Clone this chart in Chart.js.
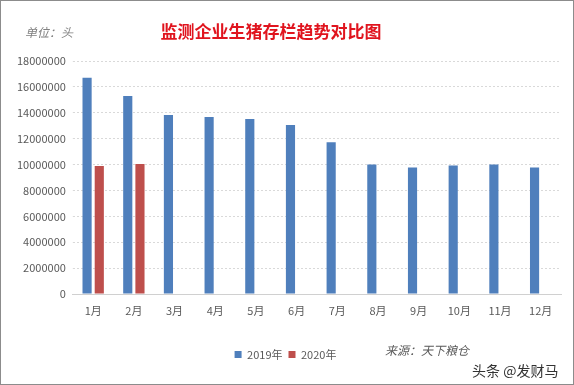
<!DOCTYPE html>
<html>
<head>
<meta charset="utf-8">
<script src="https://cdn.jsdelivr.net/npm/chart.js@4/dist/chart.umd.min.js"></script>
<style>
  html, body { margin: 0; padding: 0; background: #fff; }
  #wrap { position: relative; width: 574px; height: 385px; box-sizing: border-box; border: 1px solid #8c8c8c; }
  canvas { display: block; }
</style>
</head>
<body>
<div id="wrap"><canvas id="chart"></canvas></div>
<script>
const months = ["1月", "2月", "3月", "4月", "5月", "6月", "7月", "8月", "9月", "10月", "11月", "12月"];
const stock2019 = [16700000, 15300000, 13830000, 13670000, 13520000, 13060000, 11730000, 10000000, 9770000, 9920000, 10000000, 9770000];
const stock2020 = [9890000, 10040000];
const yTicks = [0, 2000000, 4000000, 6000000, 8000000, 10000000, 12000000, 14000000, 16000000, 18000000];

const FONT = "'Noto Sans CJK SC', 'Noto Sans', sans-serif";

// title, unit note, source and watermark drawn as text on the canvas
const extraText = {
  id: "extraText",
  afterDraw(chart) {
    const ctx = chart.ctx;
    ctx.save();
    ctx.textBaseline = "middle";

    ctx.fillStyle = "#e0141e";
    ctx.font = "bold 17px " + FONT;
    ctx.textAlign = "center";
    ctx.fillText("监测企业生猪存栏趋势对比图", 270, 31);

    ctx.fillStyle = "#7f7f7f";
    ctx.font = "italic 12px " + FONT;
    ctx.textAlign = "left";
    ctx.fillText("单位：头", 24, 31);

    ctx.fillStyle = "#595959";
    ctx.font = "italic 12px " + FONT;
    ctx.fillText("来源：天下粮仓", 384, 349);

    ctx.fillStyle = "#333";
    ctx.font = "14px " + FONT;
    ctx.fillText("头条 @发财马", 471, 370);
    ctx.restore();
  }
};

new Chart(document.getElementById("chart"), {
  type: "bar",
  data: {
    labels: months,
    datasets: [
      {
        label: "2019年",
        data: stock2019,
        backgroundColor: "#4f7fbc",
        barPercentage: 0.75,
        categoryPercentage: 0.6,
      },
      {
        label: "2020年",
        data: stock2020,
        backgroundColor: "#be4f4c",
        barPercentage: 0.75,
        categoryPercentage: 0.6,
      },
    ],
  },
  options: {
    responsive: true,
    maintainAspectRatio: false,
    animation: false,
    layout: { padding: { top: 60, left: 9, right: 12, bottom: 14 } },
    plugins: {
      title: { display: false },
      tooltip: { enabled: false },
      legend: {
        position: "bottom",
        labels: {
          boxWidth: 7,
          boxHeight: 7,
          padding: 6,
          color: "#595959",
          font: { family: FONT, size: 11 },
        },
      },
    },
    scales: {
      x: {
        grid: { display: false },
        border: { display: true, color: "#d0d0d0" },
        ticks: { color: "#595959", font: { family: FONT, size: 11 }, padding: 2 },
        afterFit(scale) { scale.height = 49; },
      },
      y: {
        min: 0,
        max: 18000000,
        afterBuildTicks(scale) { scale.ticks = yTicks.map(v => ({ value: v })); },
        grid: { color: "#d9d9d9", tickLength: 0 },
        border: { display: false, dash: [2, 2] },
        ticks: {
          color: "#595959",
          font: { family: FONT, size: 11 },
          padding: 7,
          callback: v => String(v),
        },
      },
    },
  },
  plugins: [extraText],
});
</script>
</body>
</html>
